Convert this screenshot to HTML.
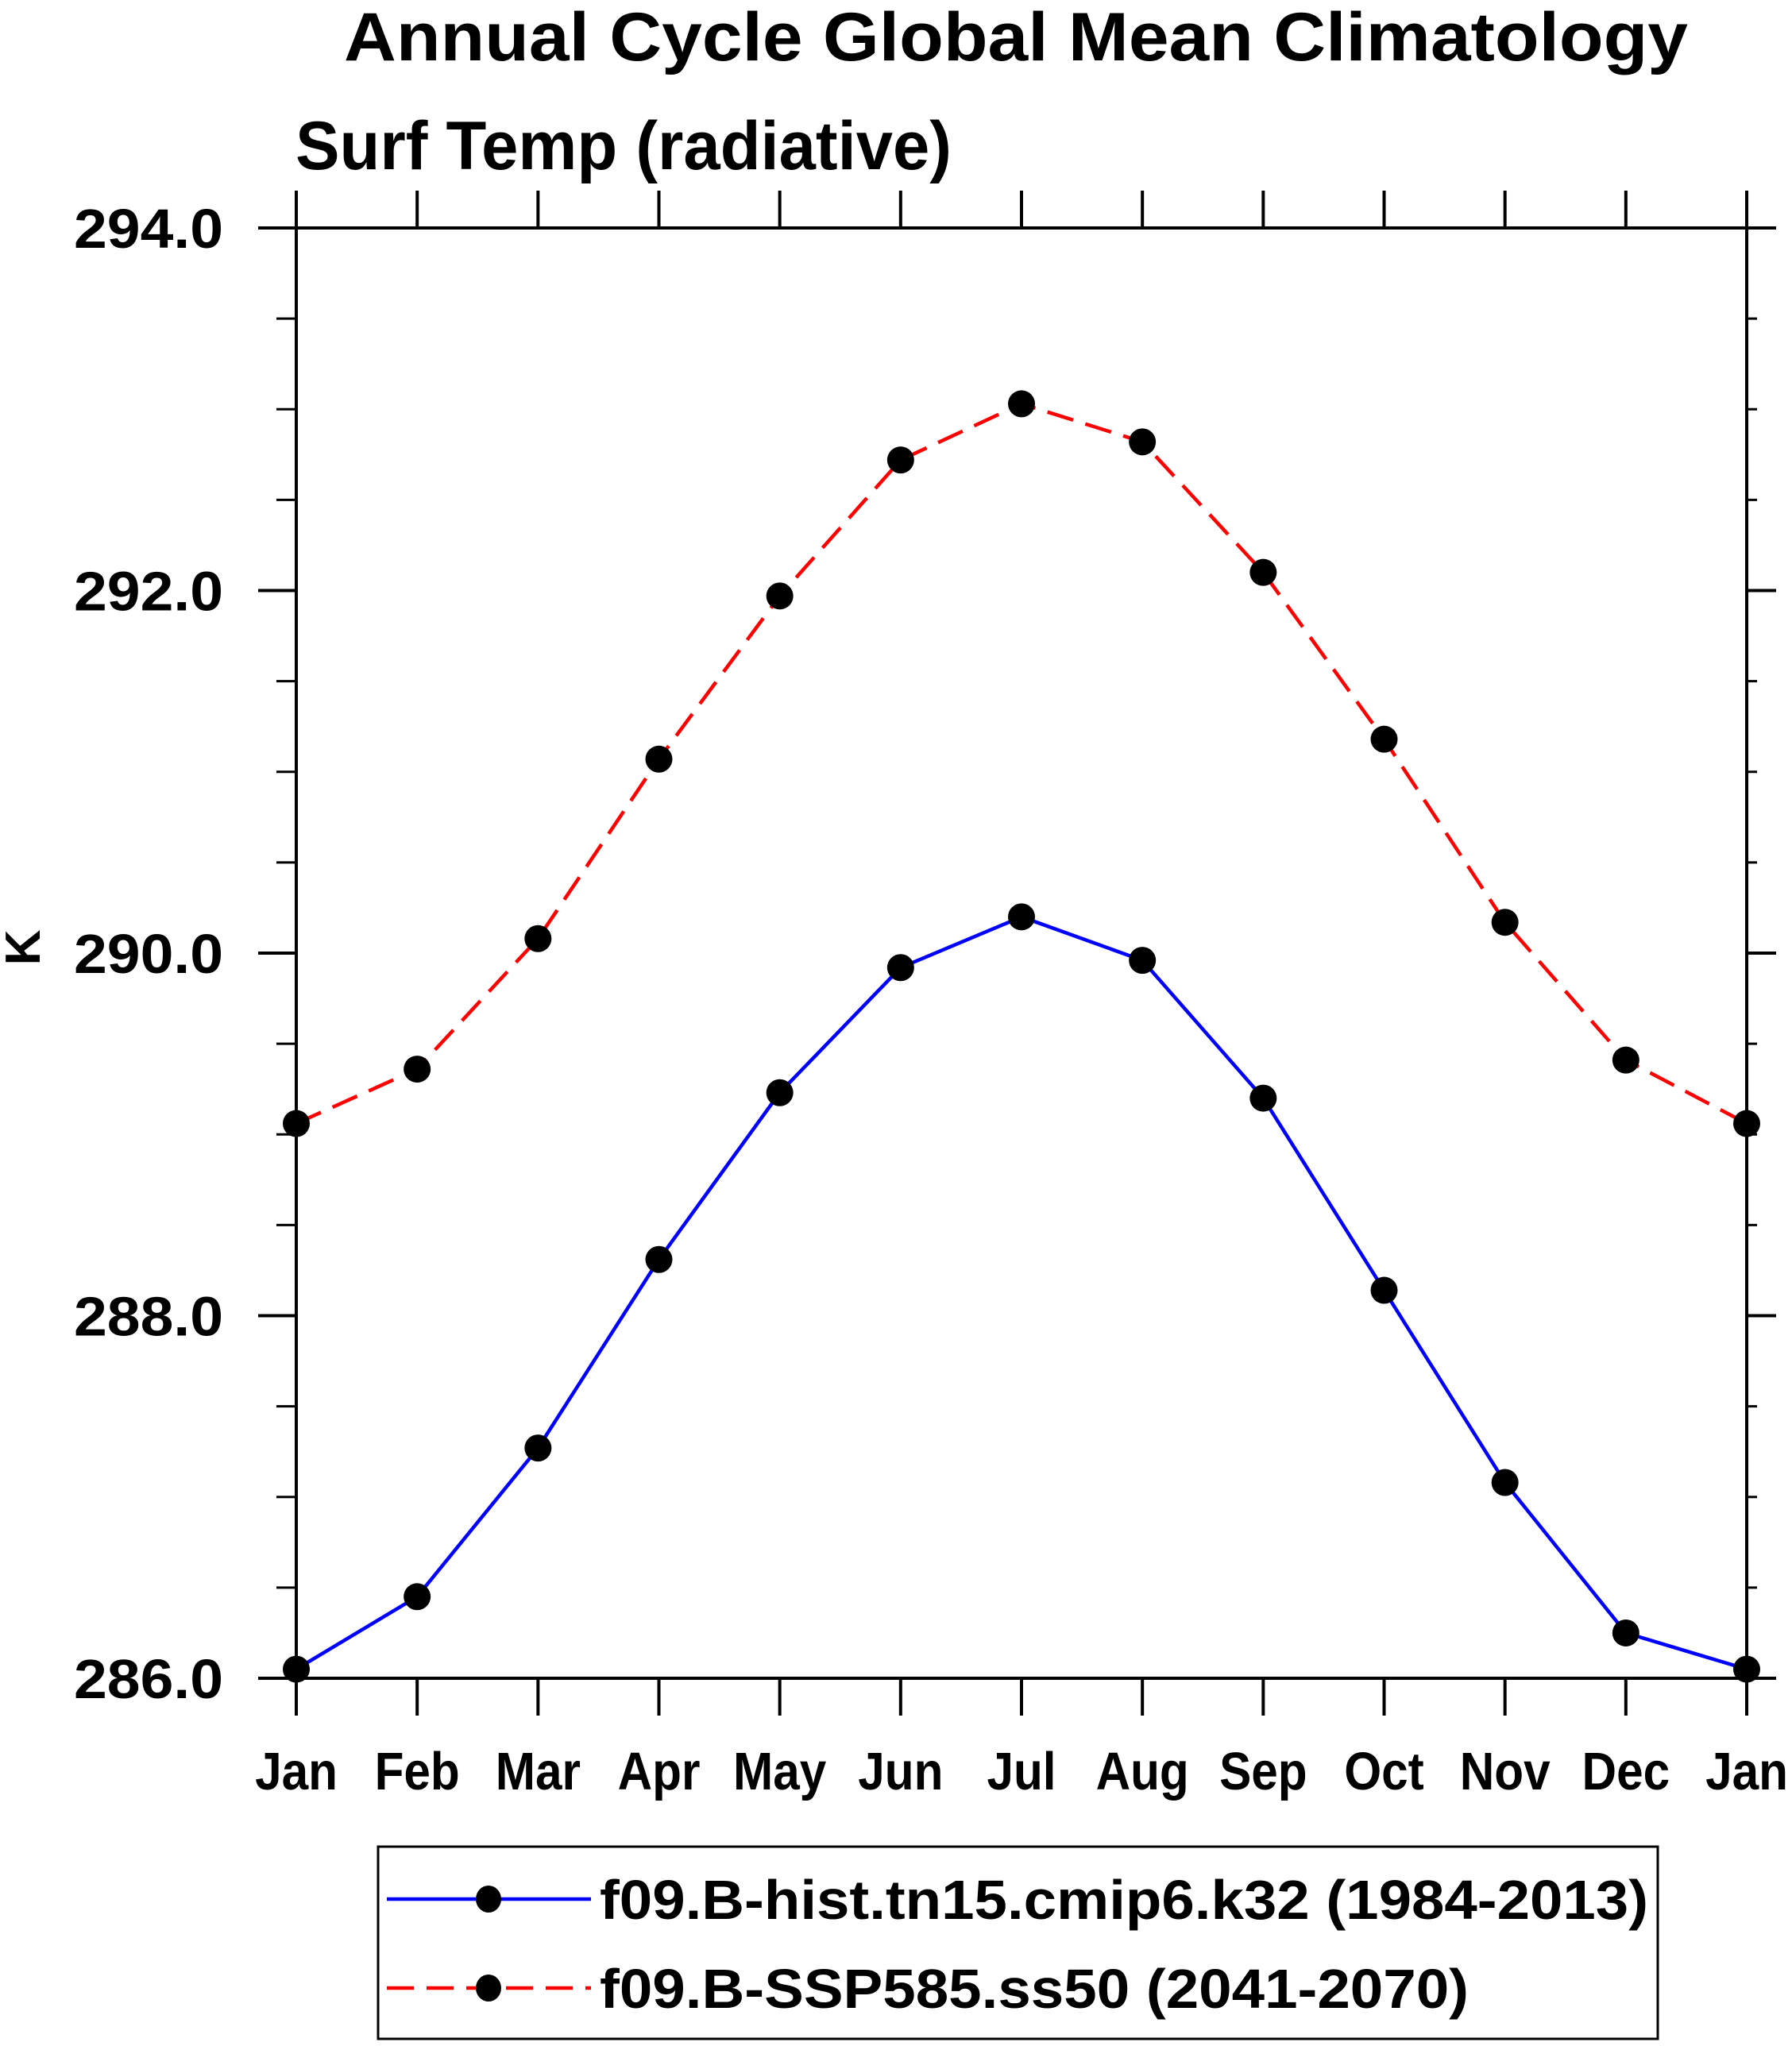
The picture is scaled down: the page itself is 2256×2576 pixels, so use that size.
<!DOCTYPE html>
<html><head><meta charset="utf-8"><style>
html,body{margin:0;padding:0;background:#fff;}
svg{display:block;}
text{font-family:"Liberation Sans",sans-serif;font-weight:bold;fill:#000;}
</style></head><body>
<svg id="chart" width="2256" height="2576" viewBox="0 0 2256 2576" xmlns="http://www.w3.org/2000/svg">
<text x="433" y="76" font-size="86" textLength="1692" lengthAdjust="spacingAndGlyphs">Annual Cycle Global Mean Climatology</text>
<text x="372" y="213" font-size="86" textLength="826" lengthAdjust="spacingAndGlyphs">Surf Temp (radiative)</text>
<text transform="translate(50,1193) rotate(-90)" text-anchor="middle" font-size="62">K</text>
<g id="axes"></g>
<g id="series"></g>
<g>
<rect x="476" y="2325" width="1611" height="242" fill="none" stroke="#000" stroke-width="3"/>
<g>
<line x1="487" y1="2391" x2="744" y2="2391" stroke="#0000ff" stroke-width="4.5"/>
<ellipse cx="615" cy="2391" rx="16" ry="17" fill="#000"/>
<text x="755" y="2416" font-size="70" textLength="1320" lengthAdjust="spacingAndGlyphs">f09.B-hist.tn15.cmip6.k32 (1984-2013)</text>
</g>
<g>
<line x1="487" y1="2503" x2="744" y2="2503" stroke="#ff0000" stroke-width="4.5" stroke-dasharray="34,16"/>
<ellipse cx="615" cy="2503" rx="16" ry="17" fill="#000"/>
<text x="755" y="2528" font-size="70" textLength="1094" lengthAdjust="spacingAndGlyphs">f09.B-SSP585.ss50 (2041-2070)</text>
</g>
</g>
</svg>
<script>
const months = ["Jan","Feb","Mar","Apr","May","Jun","Jul","Aug","Sep","Oct","Nov","Dec","Jan"];
const histValues = [286.05,286.45,287.27,288.31,289.23,289.92,290.2,289.96,289.2,288.14,287.08,286.25,286.05];
const sspValues = [289.06,289.36,290.08,291.07,291.97,292.72,293.03,292.82,292.1,291.18,290.17,289.41,289.06];
const yTicks = [286,288,290,292,294];
const yTickLabels = ["286.0","288.0","290.0","292.0","294.0"];
const yMin = 286, yMax = 294;

const NS = "http://www.w3.org/2000/svg";
const L = 373, R = 2199, T = 287, B = 2113;
function xs(i){ return L + i*(R-L)/(months.length-1); }
function ys(v){ return B - (v-yMin)/(yMax-yMin)*(B-T); }
function mk(tag, attrs, parent){ const e=document.createElementNS(NS,tag); for(const k in attrs) e.setAttribute(k,attrs[k]); parent.appendChild(e); return e; }

const axes = document.getElementById('axes');
const frame = mk('rect',{x:L,y:T,width:R-L,height:B-T,fill:'none',stroke:'#000','stroke-width':4},axes);


months.forEach((m,i)=>{
  const x = xs(i);
  const tb = mk('line',{x1:x,y1:B,x2:x,y2:2160,stroke:'#000','stroke-width':4},axes);
  
  
  const tt = mk('line',{x1:x,y1:T,x2:x,y2:240,stroke:'#000','stroke-width':4},axes);
  
  
  const t = mk('text',{x:0,y:0,'font-size':67,'text-anchor':'middle',transform:`translate(${x},2253) scale(0.9,1)`},axes);
  t.textContent = m;
  
  
});
yTicks.forEach((v,i)=>{
  const y = ys(v);
  const a = mk('line',{x1:325,y1:y,x2:L,y2:y,stroke:'#000','stroke-width':4},axes);
  
  
  const b = mk('line',{x1:R,y1:y,x2:2236,y2:y,stroke:'#000','stroke-width':4},axes);
  
  
  const t = mk('text',{x:93,y:y+25,'font-size':70,textLength:188,lengthAdjust:'spacingAndGlyphs'},axes);
  t.textContent = yTickLabels[i];
  
  
});
for(let v=yMin; v<=yMax+1e-9; v+=0.5){
  if (Math.abs(v-Math.round(v/2)*2)<1e-9) continue;
  const y = ys(v);
  const a = mk('line',{x1:348,y1:y,x2:L,y2:y,stroke:'#000','stroke-width':3},axes);
  
  
  const b = mk('line',{x1:R,y1:y,x2:2212,y2:y,stroke:'#000','stroke-width':3},axes);
  
  
}
const series = document.getElementById('series');
function drawSeries(vals, color, dash, name){
  const g = mk('g',{},series);
  
  
  const pts = vals.map((v,i)=>xs(i)+','+ys(v)).join(' ');
  const attrs = {points:pts,fill:'none',stroke:color,'stroke-width':4.5};
  if(dash) attrs['stroke-dasharray']=dash;
  const pl = mk('polyline',attrs,g);
  
  
  vals.forEach((v,i)=>{
    const c = mk('circle',{cx:xs(i),cy:ys(v),r:17,fill:'#000'},g);
    
    
  });
}
drawSeries(sspValues,'#ff0000','34,16','ssp585-series');
drawSeries(histValues,'#0000ff',null,'hist-series');
</script>
</body></html>
